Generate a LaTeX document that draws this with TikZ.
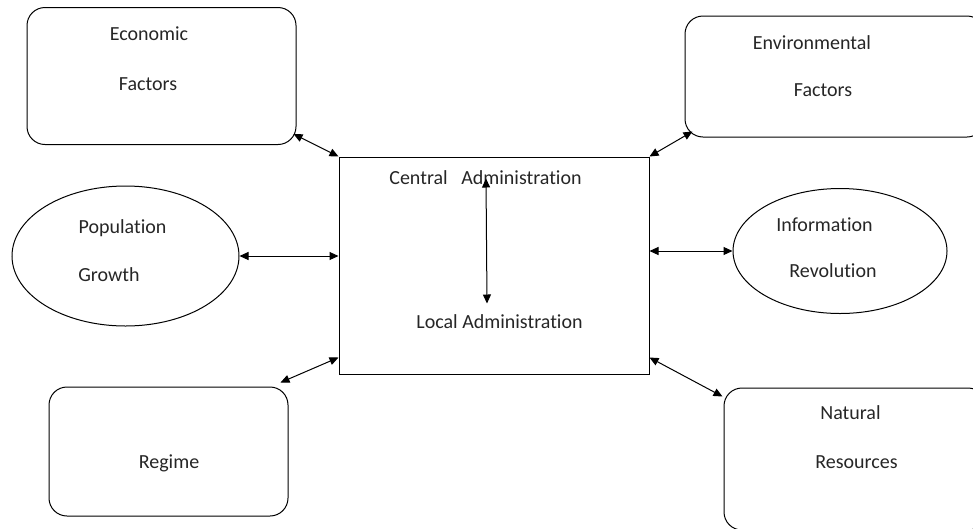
\documentclass[tikz,border=0pt]{standalone}
\usepackage{fontspec}
\setmainfont[Ligatures=NoCommon]{Carlito}
\usetikzlibrary{arrows.meta,shapes.geometric}
\begin{document}
\begin{tikzpicture}[x=1pt,y=-1pt,
  rbox/.style={draw, rectangle, rounded corners=18pt, line width=1pt, inner sep=0pt},
  sbox/.style={draw, rectangle, line width=1pt, inner sep=0pt},
  ebox/.style={draw, ellipse, line width=1pt, inner sep=0pt},
  lbl/.style={inner sep=0pt, anchor=mid, font=\fontsize{20}{24}\selectfont, text=black!85},
  dbl/.style={line width=1pt, {Triangle[length=9pt,width=8pt]}-{Triangle[length=9pt,width=8pt]}}
]
\clip (0,0) rectangle (973,528);
\useasboundingbox (0,0) rectangle (973,528);
% shapes
\node[rbox, minimum width=269pt, minimum height=137pt] (econ) at (161.5,76) {};
\node[rbox, minimum width=300pt, minimum height=121pt] (env) at (835,76.5) {};
\node[sbox, minimum width=310pt, minimum height=217pt] (central) at (494,265.5) {};
\node[ebox, minimum width=227pt, minimum height=140pt] (pop) at (125.5,256) {};
\node[ebox, minimum width=214pt, minimum height=125pt] (info) at (840,251) {};
\node[rbox, minimum width=239pt, minimum height=129pt] (regime) at (168.5,451.5) {};
\node[rbox, minimum width=262pt, minimum height=142pt] (natural) at (855,459) {};
% labels
\node[lbl] (t1) at (149,38) {Economic};
\node[lbl] (t2) at (148,88) {Factors};
\node[lbl] (t3) at (812,47) {Environmental};
\node[lbl] (t4) at (823,94) {Factors};
\node[lbl] (t5) at (485.5,182) {Central\ \ \ Administration};
\node[lbl] (t6) at (499.5,326) {Local Administration};
\node[lbl] (t7) at (122.5,231) {Population};
\node[lbl] (t8) at (109,279) {Growth};
\node[lbl] (t9) at (824.5,229) {Information};
\node[lbl] (t10) at (833,275) {Revolution};
\node[lbl] (t11) at (169,466) {Regime};
\node[lbl] (t12) at (850.5,417) {Natural};
\node[lbl] (t13) at (856.5,466) {Resources};
% connectors
\draw[dbl] ([shift={(-3,-11)}]econ.south east) -- (central.north west);
\draw[dbl] ([shift={(8,-6)}]env.south west) -- (central.north east);
\draw[dbl] (pop.east) -- (pop.east -| central.west);
\draw[dbl] (info.west -| central.east) -- (info.west);
\draw[dbl] ([shift={(-8,-4)}]regime.north east) -- ([shift={(0,-17)}]central.south west);
\draw[dbl] ([shift={(0,-17)}]central.south east) -- ([shift={(-1,9)}]natural.north west);
\draw[dbl] ([shift={(-8,22)}]central.north) -- ([shift={(-7,-71)}]central.south);
\end{tikzpicture}
\end{document}
